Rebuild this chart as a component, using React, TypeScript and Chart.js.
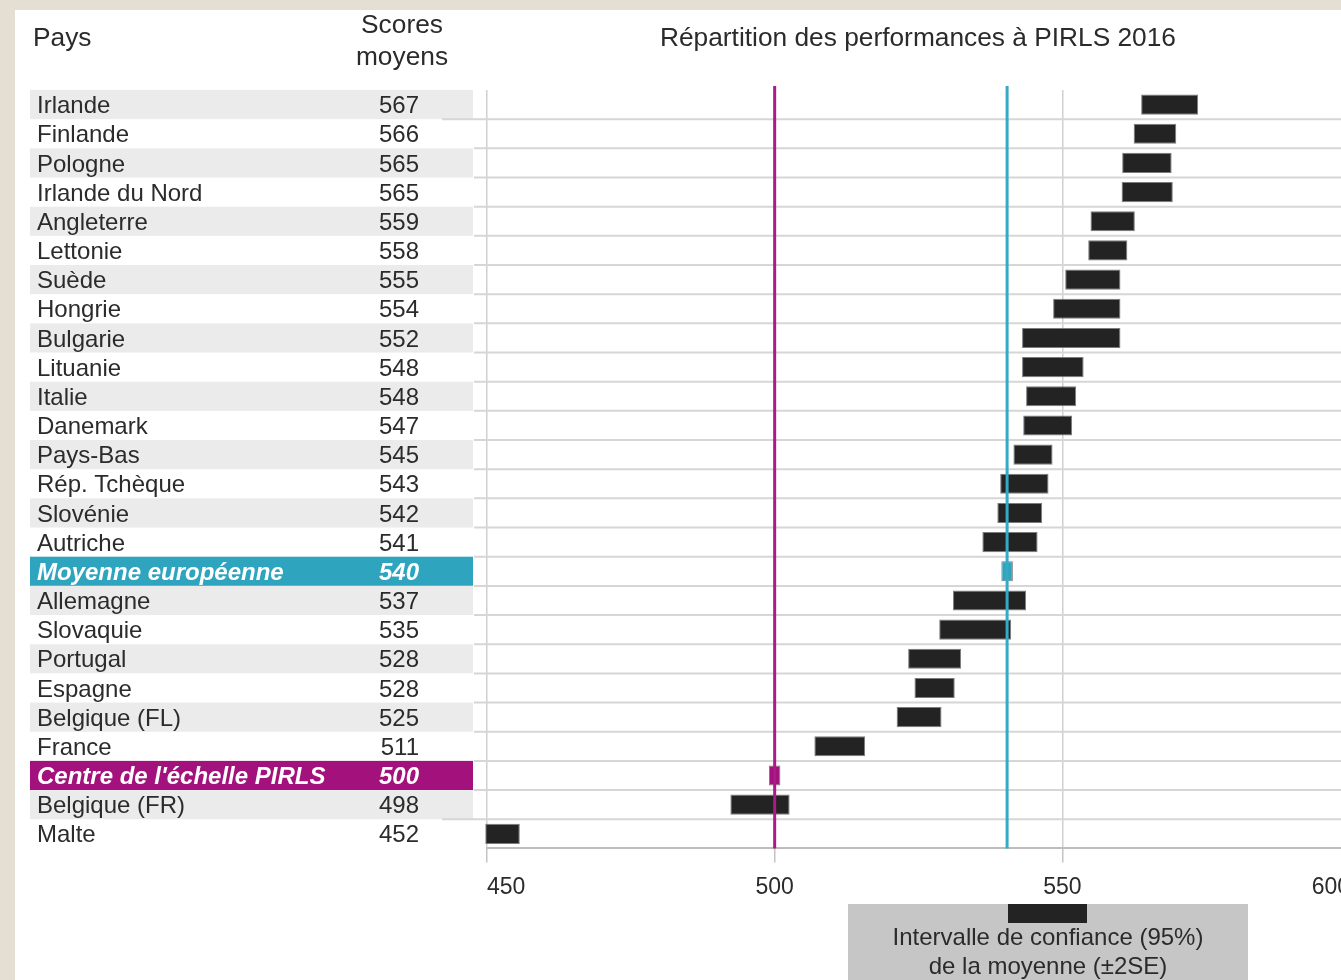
import React, { useEffect, useRef } from "react";
import { Chart, registerables } from "chart.js";

Chart.register(...registerables);

// ---------- data ----------
const countries = [
  "Irlande",
  "Finlande",
  "Pologne",
  "Irlande du Nord",
  "Angleterre",
  "Lettonie",
  "Suède",
  "Hongrie",
  "Bulgarie",
  "Lituanie",
  "Italie",
  "Danemark",
  "Pays-Bas",
  "Rép. Tchèque",
  "Slovénie",
  "Autriche",
  "Moyenne européenne",
  "Allemagne",
  "Slovaquie",
  "Portugal",
  "Espagne",
  "Belgique (FL)",
  "France",
  "Centre de l'échelle PIRLS",
  "Belgique (FR)",
  "Malte",
];

const meanScores = [
  567, 566, 565, 565, 559, 558, 555, 554, 552, 548, 548, 547, 545, 543, 542,
  541, 540, 537, 535, 528, 528, 525, 511, 500, 498, 452,
];

// confidence interval (±2SE)
const ciLow = [
  563.7, 562.4, 560.4, 560.3, 554.9, 554.5, 550.5, 548.4, 543.0, 543.0, 543.7,
  543.2, 541.5, 539.2, 538.7, 536.1, 539.4, 531.0, 528.6, 523.2, 524.3, 521.2,
  506.9, 499.0, 492.3, 449.7,
];
const ciHigh = [
  573.6, 569.8, 569.0, 569.2, 562.6, 561.3, 560.1, 560.1, 560.1, 553.7, 552.4,
  551.7, 548.3, 547.6, 546.5, 545.7, 541.4, 543.7, 541.1, 532.4, 531.3, 529.0,
  515.7, 501.0, 502.6, 455.7,
];

const xMin = 450;
const xMax = 600;
const xStep = 50;

const pirlsCentre = 500;
const europeanMean = 540.4;

const headerCountry = "Pays";
const headerScore = ["Scores", "moyens"];
const chartTitle = "Répartition des performances à PIRLS 2016";
const legendText = ["Intervalle de confiance (95%)", "de la moyenne (±2SE)"];

// ---------- styles ----------
const FONT = "'Liberation Sans', Arial, Helvetica, sans-serif";
const TEAL = "#2ea4bf";
const TEAL_LINE = "#36aac4";
const MAGENTA = "#a3127c";
const MAGENTA_LINE = "#ab1a88";
const BAR = "#232323";
const TEXT = "#2b2b2b";
const BAND = "#ebebeb";
const EURO_IDX = countries.indexOf("Moyenne européenne");
const CENTRE_IDX = countries.indexOf("Centre de l'échelle PIRLS");

const tablePlugin = {
  id: "tablePlugin",
  beforeDraw(chart: any) {
    const ctx = chart.ctx as CanvasRenderingContext2D;
    const y = chart.scales.y;
    const half = (y.getPixelForValue(1) - y.getPixelForValue(0)) / 2;
    ctx.save();
    // headers
    ctx.fillStyle = TEXT;
    ctx.font = `26.3px ${FONT}`;
    ctx.textBaseline = "middle";
    ctx.textAlign = "left";
    ctx.fillText(headerCountry, 33, 39);
    ctx.textAlign = "center";
    ctx.fillText(headerScore[0], 402, 26);
    ctx.fillText(headerScore[1], 402, 58);
    ctx.fillText(chartTitle, 918, 39);

    let gray = true;
    countries.forEach((name, i) => {
      const cy = y.getPixelForValue(i);
      let bg: string | null = null;
      const special = i === EURO_IDX || i === CENTRE_IDX;
      if (i === EURO_IDX) bg = TEAL;
      else if (i === CENTRE_IDX) bg = MAGENTA;
      else if (gray) bg = BAND;
      if (special) gray = true;
      else gray = !gray;
      if (bg) {
        ctx.fillStyle = bg;
        ctx.fillRect(30, cy - half, 443, half * 2);
      }
      ctx.font = `${special ? "italic bold " : ""}24px ${FONT}`;
      ctx.fillStyle = special ? "#ffffff" : TEXT;
      ctx.textBaseline = "middle";
      ctx.textAlign = "left";
      ctx.fillText(name, 37, cy + 2);
      ctx.textAlign = "right";
      ctx.fillText(String(meanScores[i]), 419, cy + 2);
    });
    ctx.restore();
  },
  beforeDatasetsDraw(chart: any) {
    const ctx = chart.ctx as CanvasRenderingContext2D;
    const y = chart.scales.y;
    const half = (y.getPixelForValue(1) - y.getPixelForValue(0)) / 2;
    ctx.save();
    ctx.strokeStyle = "#d6d6d6";
    ctx.lineWidth = 2;
    for (let i = 0; i < countries.length - 1; i++) {
      const yy = y.getPixelForValue(i) + half;
      const x0 = i === 0 || i === countries.length - 2 ? 442 : 474;
      ctx.beginPath();
      ctx.moveTo(x0, yy);
      ctx.lineTo(chart.width, yy);
      ctx.stroke();
    }
    ctx.restore();
  },
  afterDatasetsDraw(chart: any) {
    const ctx = chart.ctx as CanvasRenderingContext2D;
    const x = chart.scales.x;
    const { top, bottom } = chart.chartArea;
    ctx.save();
    ctx.lineWidth = 3;
    [
      [pirlsCentre, MAGENTA_LINE],
      [europeanMean, TEAL_LINE],
    ].forEach(([v, c]) => {
      const px = x.getPixelForValue(v as number);
      ctx.strokeStyle = c as string;
      ctx.beginPath();
      ctx.moveTo(px, top - 4);
      ctx.lineTo(px, bottom);
      ctx.stroke();
    });
    ctx.restore();
  },
  afterDraw(chart: any) {
    const ctx = chart.ctx as CanvasRenderingContext2D;
    ctx.save();
    ctx.fillStyle = "#c6c6c6";
    ctx.fillRect(848, 904, 400, 90);
    ctx.fillStyle = BAR;
    ctx.fillRect(1008, 904, 79, 19);
    ctx.fillStyle = TEXT;
    ctx.font = `24px ${FONT}`;
    ctx.textAlign = "center";
    ctx.textBaseline = "middle";
    ctx.fillText(legendText[0], 1048, 938);
    ctx.fillText(legendText[1], 1048, 967);
    ctx.restore();
  },
};

export default function App() {
  const canvasRef = useRef<HTMLCanvasElement | null>(null);

  useEffect(() => {
    if (!canvasRef.current) return;
    const chart = new Chart(canvasRef.current, {
      type: "bar",
      data: {
        labels: countries,
        datasets: [
          {
            data: countries.map((_, i) => [ciLow[i], ciHigh[i]]) as any,
            backgroundColor: countries.map((_, i) =>
              i === EURO_IDX ? TEAL : i === CENTRE_IDX ? MAGENTA : BAR
            ),
            borderColor: "rgba(110,110,110,0.9)",
            borderWidth: 1,
            borderSkipped: false,
            barPercentage: 0.69,
            categoryPercentage: 1,
            clip: 6,
          } as any,
        ],
      },
      options: {
        indexAxis: "y",
        responsive: false,
        animation: false,
        layout: { padding: { left: 487, right: 50, top: 90, bottom: 68 } },
        plugins: {
          legend: { display: false },
          tooltip: { enabled: false },
        },
        scales: {
          x: {
            type: "linear",
            position: "bottom",
            min: xMin,
            max: xMax,
            ticks: {
              stepSize: xStep,
              align: "inner",
              padding: 11,
              color: "#2b2b2b",
              font: { family: FONT, size: 23 },
            },
            grid: {
              color: "#d0d0d0",
              lineWidth: 1.5,
              tickLength: 14,
              tickColor: "#c4c4c4",
            },
            border: { color: "#bdbdbd", width: 2 },
          },
          y: {
            type: "category",
            display: false,
            offset: true,
          },
        },
      } as any,
      plugins: [tablePlugin],
    });
    return () => chart.destroy();
  }, []);

  return (
    <div
      style={{
        position: "fixed",
        left: 0,
        top: 0,
        width: "100vw",
        height: "100vh",
        overflow: "hidden",
        background: "#e5ded3",
      }}
    >
      <div
        style={{
          position: "absolute",
          left: 15,
          top: 10,
          right: 0,
          bottom: 0,
          background: "#ffffff",
        }}
      />
      <canvas
        ref={canvasRef}
        width={1400}
        height={980}
        style={{ position: "absolute", left: 0, top: 0, width: 1400, height: 980 }}
      />
    </div>
  );
}
